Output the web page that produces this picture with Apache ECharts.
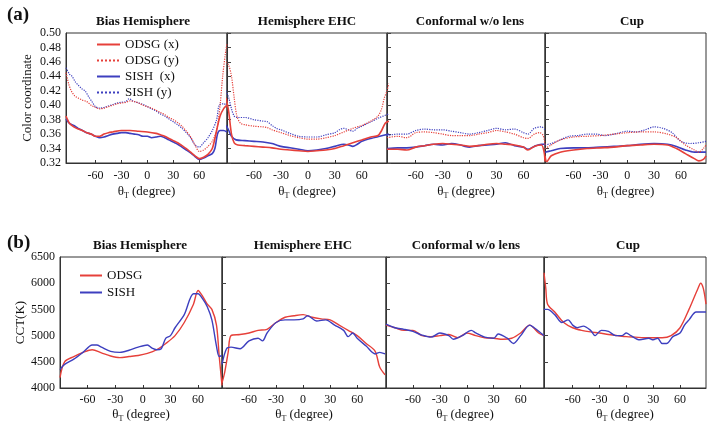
<!DOCTYPE html>
<html><head><meta charset="utf-8">
<script src="https://cdn.jsdelivr.net/npm/echarts@6/dist/echarts.min.js"></script>
<style>html,body{margin:0;padding:0;background:#fff}#c{width:708px;height:429px}</style>
</head><body><div id="c"></div>
<script>
// ---------- DATA (angle in degrees, value) ----------
const panelTitles = ['Bias Hemisphere', 'Hemisphere EHC', 'Conformal w/o lens', 'Cup'];
const xTicks = [-60, -30, 0, 30, 60];
const topNames = ['ODSG (x)', 'ODSG (y)', 'SISH  (x)', 'SISH (y)'];
const botNames = ['ODSG', 'SISH'];

// (a) colour coordinates, Bias Hemisphere
const odsgX_a1 = [[-94,0.385],[-90,0.375],[-85,0.370],[-80,0.367],[-75,0.365],[-70,0.362],[-65,0.360],[-60,0.357],[-55,0.357],[-50,0.360],[-45,0.362],[-40,0.363],[-30,0.365],[-20,0.365],[-10,0.364],[0,0.363],[10,0.361],[15,0.359],[20,0.357],[25,0.354],[30,0.351],[35,0.348],[40,0.344],[45,0.340],[50,0.335],[55,0.330],[60,0.326],[65,0.328],[70,0.332],[75,0.340],[80,0.365],[84,0.385],[88,0.395],[92,0.400]];
const odsgY_a1 = [[-94,0.445],[-91,0.430],[-88,0.420],[-84,0.413],[-80,0.410],[-75,0.407],[-70,0.405],[-65,0.400],[-60,0.397],[-55,0.395],[-50,0.396],[-45,0.398],[-40,0.400],[-35,0.402],[-30,0.403],[-25,0.404],[-20,0.406],[-15,0.405],[-10,0.403],[-5,0.400],[0,0.398],[5,0.396],[10,0.393],[15,0.390],[20,0.387],[25,0.383],[30,0.380],[35,0.376],[40,0.371],[45,0.364],[50,0.356],[55,0.345],[60,0.336],[65,0.338],[70,0.343],[75,0.350],[80,0.365],[84,0.400],[87,0.440],[90,0.470],[92,0.485]];
const sishX_a1 = [[-94,0.381],[-90,0.375],[-85,0.372],[-80,0.368],[-75,0.365],[-70,0.362],[-65,0.360],[-60,0.357],[-55,0.355],[-50,0.356],[-45,0.358],[-40,0.360],[-35,0.361],[-30,0.362],[-25,0.362],[-20,0.361],[-15,0.360],[-10,0.359],[-5,0.357],[0,0.357],[5,0.355],[10,0.356],[15,0.357],[20,0.355],[25,0.352],[30,0.349],[35,0.346],[40,0.342],[45,0.338],[50,0.334],[55,0.329],[60,0.325],[65,0.327],[70,0.330],[75,0.333],[78,0.340],[81,0.360],[84,0.365],[88,0.365],[92,0.363]];
const sishY_a1 = [[-94,0.452],[-90,0.443],[-87,0.440],[-83,0.432],[-80,0.428],[-75,0.422],[-72,0.420],[-68,0.412],[-64,0.405],[-60,0.398],[-55,0.396],[-50,0.397],[-45,0.399],[-40,0.401],[-35,0.403],[-30,0.404],[-25,0.405],[-21,0.409],[-17,0.406],[-12,0.404],[-5,0.401],[0,0.398],[5,0.395],[10,0.392],[15,0.388],[20,0.385],[25,0.381],[30,0.377],[35,0.373],[40,0.368],[45,0.362],[50,0.355],[55,0.345],[60,0.342],[65,0.348],[70,0.355],[75,0.365],[80,0.380],[83,0.400],[88,0.402],[92,0.400]];

// (a) Hemisphere EHC
const odsgX_a2 = [[-91,0.410],[-88,0.390],[-85,0.360],[-82,0.348],[-78,0.345],[-70,0.344],[-60,0.343],[-50,0.342],[-40,0.341],[-30,0.339],[-20,0.338],[-10,0.337],[0,0.336],[10,0.337],[20,0.338],[30,0.340],[40,0.344],[50,0.348],[60,0.352],[70,0.356],[78,0.358],[82,0.365],[86,0.375],[90,0.378]];
const odsgY_a2 = [[-91,0.460],[-88,0.455],[-85,0.440],[-82,0.410],[-79,0.385],[-75,0.375],[-70,0.373],[-60,0.371],[-50,0.370],[-45,0.369],[-40,0.366],[-30,0.362],[-20,0.358],[-10,0.355],[0,0.353],[10,0.353],[20,0.355],[30,0.358],[40,0.363],[50,0.368],[60,0.372],[70,0.378],[78,0.385],[82,0.395],[85,0.410],[88,0.420],[90,0.430]];
const sishX_a2 = [[-91,0.372],[-88,0.365],[-85,0.357],[-80,0.352],[-70,0.351],[-60,0.350],[-50,0.349],[-40,0.347],[-35,0.345],[-30,0.343],[-20,0.341],[-10,0.339],[0,0.337],[10,0.338],[20,0.340],[30,0.343],[40,0.346],[45,0.345],[50,0.343],[55,0.346],[60,0.350],[70,0.354],[80,0.357],[90,0.360]];
const sishY_a2 = [[-91,0.420],[-88,0.410],[-85,0.395],[-82,0.385],[-78,0.383],[-70,0.383],[-60,0.380],[-50,0.378],[-45,0.377],[-40,0.372],[-35,0.368],[-30,0.366],[-20,0.361],[-10,0.357],[0,0.356],[10,0.356],[20,0.359],[30,0.362],[35,0.366],[40,0.368],[45,0.366],[50,0.364],[55,0.368],[60,0.371],[70,0.377],[80,0.383],[90,0.388]];

// (a) Conformal w/o lens
const odsgX_a3 = [[-92,0.339],[-80,0.339],[-70,0.338],[-60,0.342],[-50,0.344],[-40,0.346],[-30,0.347],[-20,0.346],[-10,0.345],[0,0.343],[10,0.344],[20,0.346],[30,0.347],[40,0.346],[50,0.345],[60,0.342],[65,0.338],[72,0.343],[80,0.345],[83,0.335],[84,0.322]];
const odsgY_a3 = [[-92,0.355],[-80,0.357],[-70,0.355],[-60,0.362],[-50,0.363],[-40,0.362],[-30,0.360],[-20,0.358],[-10,0.358],[0,0.358],[10,0.360],[20,0.362],[30,0.365],[40,0.363],[50,0.360],[60,0.355],[65,0.354],[72,0.360],[78,0.362],[82,0.358],[84,0.345]];
const sishX_a3 = [[-92,0.340],[-80,0.341],[-70,0.341],[-60,0.342],[-50,0.344],[-40,0.346],[-30,0.345],[-20,0.347],[-10,0.345],[-5,0.343],[0,0.342],[10,0.344],[20,0.345],[30,0.346],[40,0.348],[50,0.344],[60,0.342],[65,0.339],[72,0.343],[80,0.346],[84,0.346]];
const sishY_a3 = [[-92,0.358],[-80,0.360],[-70,0.360],[-60,0.365],[-50,0.367],[-40,0.366],[-30,0.366],[-20,0.364],[-10,0.362],[0,0.360],[10,0.362],[20,0.365],[30,0.368],[40,0.366],[50,0.367],[60,0.362],[65,0.360],[72,0.368],[80,0.370],[84,0.366]];

// (a) Cup
const odsgX_a4 = [[-92,0.330],[-90,0.322],[-85,0.330],[-75,0.335],[-60,0.338],[-45,0.340],[-30,0.341],[-15,0.342],[0,0.344],[15,0.345],[30,0.346],[45,0.345],[55,0.340],[65,0.333],[75,0.326],[80,0.323],[85,0.325],[88,0.330]];
const odsgY_a4 = [[-92,0.340],[-85,0.345],[-75,0.352],[-60,0.356],[-45,0.357],[-30,0.358],[-15,0.360],[0,0.362],[15,0.363],[30,0.363],[45,0.360],[55,0.355],[65,0.345],[75,0.338],[80,0.335],[85,0.340],[88,0.345]];
const sishX_a4 = [[-92,0.335],[-85,0.337],[-75,0.340],[-60,0.341],[-45,0.341],[-30,0.342],[-15,0.343],[0,0.344],[15,0.346],[30,0.347],[45,0.346],[55,0.343],[65,0.338],[75,0.335],[88,0.335]];
const sishY_a4 = [[-92,0.345],[-85,0.347],[-75,0.352],[-65,0.357],[-55,0.358],[-45,0.360],[-35,0.360],[-25,0.358],[-15,0.360],[0,0.364],[10,0.363],[20,0.366],[30,0.370],[40,0.368],[50,0.362],[60,0.350],[70,0.347],[80,0.348],[88,0.350]];

// (b) CCT (K)
const odsg_b1 = [[-90,4200],[-85,4500],[-75,4600],[-65,4680],[-55,4730],[-45,4670],[-35,4610],[-25,4580],[-15,4600],[-5,4620],[5,4660],[15,4730],[25,4850],[35,5000],[45,5250],[55,5600],[60,5860],[65,5750],[70,5600],[75,5500],[80,5200],[83,4600],[86,4050]];
const sish_b1 = [[-90,4350],[-85,4450],[-75,4550],[-65,4680],[-55,4820],[-50,4820],[-45,4780],[-35,4700],[-25,4680],[-15,4720],[-5,4780],[5,4820],[10,4760],[15,4730],[20,4750],[25,4950],[30,5000],[35,5150],[45,5400],[55,5800],[60,5800],[65,5700],[70,5550],[75,5300],[80,4800],[83,4600],[86,4620]];
const odsg_b2 = [[-90,4100],[-87,4300],[-83,4700],[-80,5000],[-70,5020],[-60,5050],[-50,5100],[-40,5120],[-30,5250],[-20,5350],[-10,5380],[0,5400],[10,5350],[20,5320],[30,5300],[40,5200],[50,5100],[60,5000],[70,4850],[80,4700],[85,4400],[91,4250]];
const sish_b2 = [[-90,4450],[-85,4750],[-80,4780],[-70,4750],[-60,4900],[-50,4950],[-45,4900],[-40,5050],[-30,5250],[-20,5300],[-10,5300],[0,5320],[5,5380],[15,5280],[25,5300],[35,5200],[45,5100],[50,4980],[55,5050],[60,4950],[70,4800],[80,4650],[85,4680],[91,4650]];
const odsg_b3 = [[-90,5200],[-80,5150],[-70,5100],[-60,5100],[-50,5000],[-40,4980],[-30,5000],[-20,5020],[-10,4960],[0,5050],[10,5000],[20,4960],[30,4950],[40,4930],[50,4950],[60,5050],[70,5200],[80,5050],[86,5000]];
const sish_b3 = [[-90,5220],[-80,5150],[-70,5120],[-60,5080],[-50,5010],[-40,4970],[-30,5050],[-20,5000],[-15,4930],[-5,5000],[5,5100],[10,5050],[20,4970],[30,4950],[35,5030],[45,4950],[52,4850],[60,5000],[70,5200],[75,5150],[86,5000]];
const odsg_b4 = [[-92,6200],[-90,5900],[-88,5600],[-80,5450],[-70,5250],[-60,5150],[-50,5100],[-40,5070],[-30,5050],[-20,5020],[-10,5000],[0,4980],[10,4970],[20,4960],[30,4960],[40,4960],[50,5000],[60,5150],[70,5500],[80,5900],[83,6000],[86,5900],[89,5600]];
const sish_b4 = [[-92,5500],[-88,5500],[-80,5400],[-72,5250],[-65,5300],[-60,5200],[-55,5150],[-48,5180],[-40,5100],[-35,5000],[-28,5100],[-20,5080],[-12,5000],[-5,5000],[0,5050],[5,5000],[15,4920],[25,4950],[30,4920],[35,4950],[40,4850],[45,4850],[52,4980],[60,5050],[65,5200],[70,5300],[78,5450],[89,5450]];

// ---------- LAYOUT ----------
const topEdges = [66, 227, 387, 545, 706];
const botEdges = [60, 222, 386, 544, 706];
const topRange = [[-94, 92], [-90, 88], [-92, 84], [-92, 88]];
const botRange = [[-90, 86], [-90, 92], [-90, 86], [-92, 89]];
const topTitleX = [138, 302, 465, 627];
const botTitleX = [135, 298, 461, 623];
const RED = '#e6403a', BLUE = '#3d3fbf';
const SERIF = '"Liberation Serif", "DejaVu Serif", serif';

const topData = [[odsgX_a1, odsgY_a1, sishX_a1, sishY_a1],[odsgX_a2, odsgY_a2, sishX_a2, sishY_a2],[odsgX_a3, odsgY_a3, sishX_a3, sishY_a3],[odsgX_a4, odsgY_a4, sishX_a4, sishY_a4]];
const botData = [[odsg_b1, sish_b1],[odsg_b2, sish_b2],[odsg_b3, sish_b3],[odsg_b4, sish_b4]];

const grid = [], xAxis = [], yAxis = [], series = [], title = [];
const xName = '{t|θ}{s|T}{t| (degree)}';
const xNameStyle = {rich: {t: {fontFamily: SERIF, fontSize: 13, color: '#111'}, s: {fontFamily: SERIF, fontSize: 8, color: '#111', verticalAlign: 'bottom', padding: [8, 0, 0, 0]}}};

function addPanel(row, i) {
  const edges = row === 0 ? topEdges : botEdges;
  const rng = row === 0 ? topRange[i] : botRange[i];
  const top = row === 0 ? 33 : 257;
  const height = row === 0 ? 130 : 131;
  const gi = grid.length;
  grid.push({left: edges[i], top: top, width: edges[i + 1] - edges[i], height: height, show: true, borderColor: '#333', borderWidth: 1, backgroundColor: 'transparent'});
  xAxis.push({type: 'value', gridIndex: gi, min: rng[0], max: rng[1],
    axisLine: {show: true, onZero: false, lineStyle: {color: '#333', width: 1}}, splitLine: {show: false},
    axisTick: {show: true, inside: true, length: 3, lineStyle: {color: '#333'}, customValues: xTicks},
    axisLabel: {show: true, customValues: xTicks, fontFamily: SERIF, fontSize: 12, color: '#111', margin: row === 0 ? 7 : 6},
    name: xName, nameLocation: 'middle', nameGap: row === 0 ? 21 : 19, nameTextStyle: xNameStyle});
  const y = row === 0
    ? {min: 0.32, max: 0.50, interval: 0.02, labelFmt: v => v.toFixed(2), name: 'Color coordinate', gap: 32}
    : {min: 4000, max: 6500, interval: 500, labelFmt: v => String(v), name: 'CCT(K)', gap: 31};
  yAxis.push({type: 'value', gridIndex: gi, min: y.min, max: y.max, interval: y.interval,
    axisLine: {show: true, onZero: false, lineStyle: {color: '#333', width: 1}}, splitLine: {show: false},
    axisTick: {show: i > 0, inside: true, length: 4, lineStyle: {color: '#444', width: 1}},
    axisLabel: {show: i === 0, formatter: y.labelFmt, fontFamily: SERIF, fontSize: 12, color: '#111', margin: 5},
    name: i === 0 ? y.name : '', nameLocation: 'middle', nameGap: y.gap, nameRotate: 90,
    nameTextStyle: {fontFamily: SERIF, fontSize: 13, color: '#111'}});
  title.push({text: panelTitles[i], left: row === 0 ? topTitleX[i] : botTitleX[i], top: row === 0 ? 10 : 234, textAlign: 'center',
    textStyle: {fontFamily: SERIF, fontWeight: 'bold', fontSize: 13, color: '#111'}});
  if (row === 0) {
    const d = topData[i];
    const styles = [[RED, 'solid', 1.6], [RED, 'dotted', 1.2], [BLUE, 'solid', 1.6], [BLUE, 'dotted', 1.2]];
    d.forEach((arr, k) => series.push({type: 'line', name: topNames[k], xAxisIndex: gi, yAxisIndex: gi, data: arr, symbol: 'none', smooth: 0.3,
      lineStyle: {color: styles[k][0], type: styles[k][1], width: styles[k][2]}, itemStyle: {color: styles[k][0]}, z: k < 2 ? 3 : 2}));
  } else {
    const d = botData[i];
    const cols = [RED, BLUE];
    d.forEach((arr, k) => series.push({type: 'line', name: botNames[k], xAxisIndex: gi, yAxisIndex: gi, data: arr, symbol: 'none', smooth: 0.3,
      lineStyle: {color: cols[k], width: 1.4}, itemStyle: {color: cols[k]}}));
  }
}
for (let i = 0; i < 4; i++) addPanel(0, i);
for (let i = 0; i < 4; i++) addPanel(1, i);

title.push({text: '(a)', left: 2, top: 1, textStyle: {fontFamily: SERIF, fontWeight: 'bold', fontSize: 19, color: '#111'}});
title.push({text: '(b)', left: 2, top: 229, textStyle: {fontFamily: SERIF, fontWeight: 'bold', fontSize: 19, color: '#111'}});

const legend = [
  {data: topNames, orient: 'vertical', left: 91, top: 33, itemWidth: 23, itemHeight: 12, itemGap: 3,
    itemStyle: {opacity: 0},
    textStyle: {fontFamily: SERIF, fontSize: 13, color: '#111'}, selectedMode: false},
  {data: botNames, orient: 'vertical', left: 74, top: 264, itemWidth: 22, itemHeight: 12, itemGap: 4,
    itemStyle: {opacity: 0},
    textStyle: {fontFamily: SERIF, fontSize: 13, color: '#111'}, selectedMode: false}
];

const chart = echarts.init(document.getElementById('c'), null, {renderer: 'canvas'});
chart.setOption({animation: false, backgroundColor: '#fff', title, grid, xAxis, yAxis, series, legend});
</script></body></html>
